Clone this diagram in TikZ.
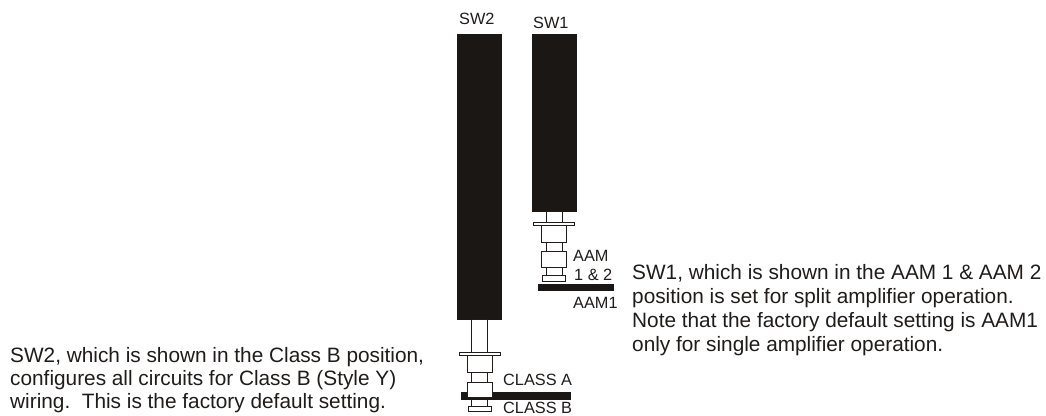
\documentclass[tikz,border=0pt]{standalone}
\usepackage{fontspec}
\setmainfont{Liberation Sans}
\definecolor{swblack}{HTML}{1A1715}
\definecolor{swtext}{HTML}{1F1C1A}
\tikzset{
  swblock/.style={draw=swblack, fill=swblack},
  swpart/.style={draw=swtext, line width=1pt, fill=white},
  swlabel/.style={anchor=base west, inner sep=0pt, text=swtext, font=\fontsize{16.3}{18}\selectfont},
  swnote/.style={anchor=base west, inner sep=0pt, text=swtext, font=\fontsize{20.8}{23}\selectfont}
}
\begin{document}
\begin{tikzpicture}[x=1pt, y=-1pt]
  \useasboundingbox (0,0) rectangle (1046,415);
  \pgfmathsetmacro{\swTop}{34};
  \pgfmathsetmacro{\swTwoEnd}{319};
  \pgfmathsetmacro{\swOneEnd}{211};
  %% Switch SW2
  \filldraw[swblock] (457,\swTop) rectangle (501,\swTwoEnd);
  \filldraw[swpart] (471,\swTwoEnd) rectangle (487,353);
  \filldraw[swpart] (471,372) rectangle (487,382);
  \filldraw[swpart] (471,397) rectangle (487,406);
  \filldraw[swblock] (461,392) rectangle (570,399);
  \filldraw[swpart] (459,352) rectangle (500,355);
  \filldraw[swpart] (467,355) rectangle (492,372);
  \filldraw[swpart] (467,382) rectangle (492,397);
  \filldraw[swpart] (468,406) rectangle (491,411);
  %% Switch SW1
  \filldraw[swblock] (532,\swTop) rectangle (576,\swOneEnd);
  \filldraw[swpart] (546,\swOneEnd) rectangle (562,223);
  \filldraw[swpart] (546,242) rectangle (562,252);
  \filldraw[swpart] (546,267) rectangle (562,276);
  \filldraw[swpart] (533,222) rectangle (574,225);
  \filldraw[swpart] (541,225) rectangle (566,242);
  \filldraw[swpart] (541,251) rectangle (566,267);
  \filldraw[swpart] (542,275) rectangle (565,281);
  \filldraw[swblock] (538,284.5) rectangle (613,290.5);
  %% Switch labels
  \node[swlabel] (swTwoName) at (459,24) {SW2};
  \node[swlabel] (swOneName) at (533,28) {SW1};
  \node[swlabel] (classA) at (503,385) {CLASS A};
  \node[swlabel] (classB) at (503,413) {CLASS B};
  \node[swlabel] (aamTop) at (573,261) {AAM};
  \node[swlabel] (aamBottom) at (574,280) {1 \& 2};
  \node[swlabel] (aamOne) at (573,308) {AAM1};
  %% Notes
  \node[swnote] (noteTwoA) at (10,362) {SW2, which is shown in the Class B position,};
  \node[swnote] (noteTwoB) at (10,385) {configures all circuits for Class B (Style Y)};
  \node[swnote] (noteTwoC) at (10,408) {wiring.\ \ This is the factory default setting.};
  \node[swnote] (noteOneA) at (632,279) {SW1, which is shown in the AAM 1 \& AAM 2};
  \node[swnote] (noteOneB) at (632,303) {position is set for split amplifier operation.};
  \node[swnote] (noteOneC) at (632,327) {Note that the factory default setting is AAM1};
  \node[swnote] (noteOneD) at (632,351) {only for single amplifier operation.};
\end{tikzpicture}
\end{document}
